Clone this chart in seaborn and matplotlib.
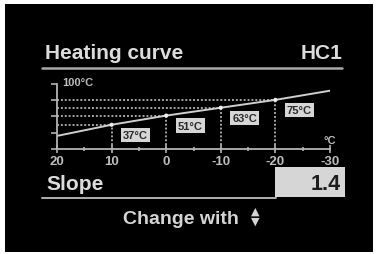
import matplotlib
matplotlib.use('Agg')
from matplotlib import pyplot as plt
from matplotlib.patches import Rectangle
from matplotlib.lines import Line2D
import seaborn as sns
import pandas as pd

# 数据
outdoor_temp = [20, 10, 0, -10, -20, -30]
flow_temp = [20, 37, 51, 63, 75, 89]
marked_outdoor = [10, 0, -10, -20]
marked_flow = [37, 51, 63, 75]
marked_labels = ['37°C', '51°C', '63°C', '75°C']
xtick_values = [20, 10, 0, -10, -20, -30]
xtick_labels = ['20', '10', '0', '-10', '-20', '-30']
ytick_values = [0, 25, 50, 75, 100]
title_left = 'Heating curve'
title_right = 'HC1'
slope_label = 'Slope'
slope_value = '1.4'
hint_text = 'Change with'

sns.set_style('dark', {'axes.facecolor': 'black'})
plt.rcParams['font.family'] = ['Liberation Sans', 'DejaVu Sans']

W, H = 377, 255
fig = plt.figure(figsize=(W / 100, H / 100), dpi=100, facecolor='white')


def fx(x):
    return x / W


def fy(y):
    return 1 - y / H


# 屏幕黑色背景
fig.patches.append(Rectangle((fx(5), fy(253)), fx(368), 248 / H, transform=fig.transFigure,
                             facecolor='black', edgecolor='none', zorder=-5))

ax = fig.add_axes([fx(57), fy(150), fx(273), 65.5 / H])
ax.set_zorder(3)
ax.set_facecolor('black')
ax.patch.set_alpha(0)

df = pd.DataFrame({'outdoor': outdoor_temp, 'flow': flow_temp})
pts = pd.DataFrame({'outdoor': marked_outdoor, 'flow': marked_flow})

ax.hlines(marked_flow, xmin=20, xmax=marked_outdoor, colors='#a4a4a4', linestyles=(0, (1, 1)), lw=1.4, zorder=1)
ax.vlines(marked_outdoor, ymin=0, ymax=marked_flow, colors='#a4a4a4', linestyles=(0, (1, 1)), lw=1.4, zorder=1)
sns.lineplot(data=df, x='outdoor', y='flow', ax=ax, color='#cfcfcf', lw=1.4, zorder=2)
sns.scatterplot(data=pts, x='outdoor', y='flow', ax=ax, color='#eeeeee', s=9, edgecolor='none', zorder=3)

for xo, yo, lab in zip(marked_outdoor, marked_flow, marked_labels):
    ax.annotate(lab, (xo, yo), xytext=(24, -10), textcoords='offset pixels',
                ha='center', va='center', fontsize=8, fontweight='bold', color='#2a2a2a',
                bbox=dict(boxstyle='square,pad=0.2', facecolor='#d6d6d6', edgecolor='none'))

ax.set_xlim(20, -30)
ax.set_ylim(0, 100)
ax.set_xticks(xtick_values)
ax.set_xticklabels(xtick_labels)
ax.set_xticks([15, 5, -5, -15, -25], minor=True)
ax.set_yticks(ytick_values)
ax.set_yticklabels([])
ax.set_xlabel('')
ax.set_ylabel('')
ax.grid(False)
for s in ['top', 'right']:
    ax.spines[s].set_visible(False)
for s in ['left', 'bottom']:
    ax.spines[s].set_visible(True)
    ax.spines[s].set_color('#b4b4b4')
    ax.spines[s].set_linewidth(1.3)
ax.tick_params(axis='x', which='major', direction='inout', length=6, width=1.2, color='#b4b4b4',
               labelsize=9.5, labelcolor='#bdbdbd', pad=1, bottom=True)
ax.tick_params(axis='x', which='minor', direction='inout', length=3, width=1.2, color='#b4b4b4', bottom=True)
ax.tick_params(axis='y', which='major', direction='out', length=4, width=1.2, color='#b4b4b4', left=True)
for t in ax.get_xticklabels():
    t.set_fontweight('bold')

ax.text(0.02, 1.02, '100°C', transform=ax.transAxes, fontsize=8, fontweight='bold',
        color='#bdbdbd', ha='left', va='center')
ax.text(1.0, 0.06, '°C', transform=ax.transAxes, fontsize=8, fontweight='bold',
        color='#bdbdbd', ha='center', va='bottom')

# 标题与分隔线
fig.text(fx(45), fy(59), title_left, fontsize=15, fontweight='bold', color='#dcdcdc', va='baseline')
fig.text(fx(342), fy(59), title_right, fontsize=15, fontweight='bold', color='#dcdcdc',
         va='baseline', ha='right')
fig.add_artist(Line2D([fx(42), fx(342)], [fy(69), fy(69)], color='#a8a8a8', lw=1.8))

# 斜率行
fig.patches.append(Rectangle((fx(275), fy(198)), fx(70), 30 / H, transform=fig.transFigure,
                             facecolor='#d6d6d6', edgecolor='none', zorder=1))
fig.add_artist(Line2D([fx(42), fx(276)], [fy(199), fy(199)], color='#b0b0b0', lw=1.4))
fig.text(fx(46), fy(190), slope_label, fontsize=15, fontweight='bold', color='#dcdcdc', va='baseline')
fig.text(fx(341), fy(190), slope_value, fontsize=15.5, fontweight='bold', color='#1e1e1e',
         va='baseline', ha='right', zorder=2)

# 提示
fig.text(fx(123), fy(224), hint_text, fontsize=14, fontweight='bold', color='#d4d4d4', va='baseline')
fig.text(fx(255), fy(211.5), '▲', fontsize=8, color='#d4d4d4', ha='center', va='center',
         family=['DejaVu Sans'])
fig.text(fx(255), fy(221.5), '▼', fontsize=8, color='#d4d4d4', ha='center', va='center',
         family=['DejaVu Sans'])

plt.savefig('out.png', dpi=100, facecolor=fig.get_facecolor())
